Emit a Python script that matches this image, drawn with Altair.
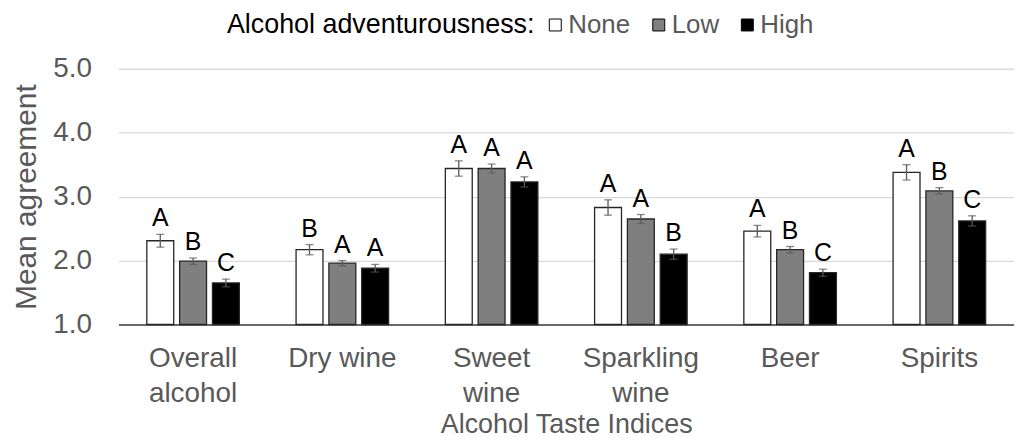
import altair as alt
import pandas as pd

categories = ["Overall alcohol", "Dry wine", "Sweet wine", "Sparkling wine", "Beer", "Spirits"]
levels = ["None", "Low", "High"]
none_vals = [2.31, 2.17, 3.44, 2.83, 2.46, 3.38]
low_vals = [1.99, 1.96, 3.44, 2.65, 2.17, 3.09]
high_vals = [1.65, 1.88, 3.23, 2.10, 1.81, 2.62]
none_err = [0.10, 0.08, 0.12, 0.12, 0.09, 0.12]
low_err = [0.05, 0.04, 0.07, 0.07, 0.05, 0.05]
high_err = [0.06, 0.06, 0.08, 0.08, 0.055, 0.08]
none_letters = ["A", "B", "A", "A", "A", "A"]
low_letters = ["B", "A", "A", "A", "B", "B"]
high_letters = ["C", "A", "A", "B", "C", "C"]

rows = []
for lvl, vals, errs, lets in [("None", none_vals, none_err, none_letters),
                              ("Low", low_vals, low_err, low_letters),
                              ("High", high_vals, high_err, high_letters)]:
    for c, v, e, l in zip(categories, vals, errs, lets):
        rows.append({"index": c, "level": lvl, "mean": v, "err": e, "letter": l})
df = pd.DataFrame(rows)

FONT = "Liberation Sans"
GRAY = "#595959"

x_enc = alt.X("index:N", sort=categories,
              scale=alt.Scale(paddingInner=0.38, paddingOuter=0.19),
              axis=alt.Axis(title="Alcohol Taste Indices", labelAngle=0,
                            labelExpr="datum.label == 'Dry wine' ? datum.label : split(datum.label, ' ')",
                            labelFontSize=28, labelColor=GRAY, labelFont=FONT,
                            labelLineHeight=35, labelPadding=20, ticks=False,
                            domainColor="#404040", domainWidth=1.3,
                            titleFontSize=27, titleColor=GRAY, titleFont=FONT,
                            titleFontWeight="normal", titlePadding=5))
xo_enc = alt.XOffset("level:N", sort=levels, scale=alt.Scale(paddingInner=0.18, paddingOuter=0))
y_scale = alt.Scale(domain=[1, 5], zero=False, nice=False)

base = alt.Chart(df).transform_calculate(
    lo="datum.mean - datum.err", hi="datum.mean + datum.err"
)

bars = base.mark_bar(stroke="#262626", strokeWidth=1.3).encode(
    x=x_enc,
    xOffset=xo_enc,
    y=alt.Y("mean:Q", scale=y_scale,
            axis=alt.Axis(title="Mean agreement", values=[1, 2, 3, 4, 5], format=".1f",
                          labelFontSize=28, labelColor=GRAY, labelFont=FONT, labelPadding=27,
                          ticks=False, domain=False, grid=True, gridColor="#d9d9d9", gridWidth=1.3,
                          titleFontSize=30, titleColor=GRAY, titleFont=FONT,
                          titleFontWeight="normal", titlePadding=11)),
    y2=alt.datum(1),
    fill=alt.Fill("level:N", sort=levels,
                  scale=alt.Scale(domain=levels, range=["#ffffff", "#7f7f7f", "#000000"]),
                  legend=alt.Legend(title="Alcohol adventurousness:", orient="none",
                                    direction="horizontal", titleOrient="left",
                                    legendX=109, legendY=-57,
                                    symbolType="square", symbolSize=144,
                                    symbolStrokeColor="#000000", symbolStrokeWidth=1,
                                    labelFontSize=26, labelColor=GRAY, labelFont=FONT,
                                    labelOffset=0, columnPadding=15,
                                    titleFontSize=27, titleColor="#000000", titleFont=FONT,
                                    titleFontWeight="normal", titlePadding=7,
                                    titleLimit=500, titleBaseline="middle")),
)

rules = base.mark_rule(color=GRAY, strokeWidth=1.3).encode(
    x=alt.X("index:N", sort=categories), xOffset=xo_enc,
    y=alt.Y("lo:Q", scale=y_scale), y2="hi:Q",
)
cap_hi = base.mark_tick(color=GRAY, size=8, thickness=1.3).encode(
    x=alt.X("index:N", sort=categories), xOffset=xo_enc,
    y=alt.Y("hi:Q", scale=y_scale),
)
cap_lo = base.mark_tick(color=GRAY, size=8, thickness=1.3).encode(
    x=alt.X("index:N", sort=categories), xOffset=xo_enc,
    y=alt.Y("lo:Q", scale=y_scale),
)
letters = base.mark_text(font=FONT, fontSize=25, color="#000000", baseline="alphabetic", dy=-8).encode(
    x=alt.X("index:N", sort=categories), xOffset=xo_enc,
    y=alt.Y("hi:Q", scale=y_scale),
    text="letter:N",
)

chart = alt.layer(bars, rules, cap_hi, cap_lo, letters).properties(
    width=900, height=257,
    autosize=alt.AutoSizeParams(type="none"),
    padding={"left": 111, "top": 60, "right": 0, "bottom": 115},
).configure_view(stroke=None)

chart.save("out.html", embed_options={"renderer": "svg", "actions": False})
